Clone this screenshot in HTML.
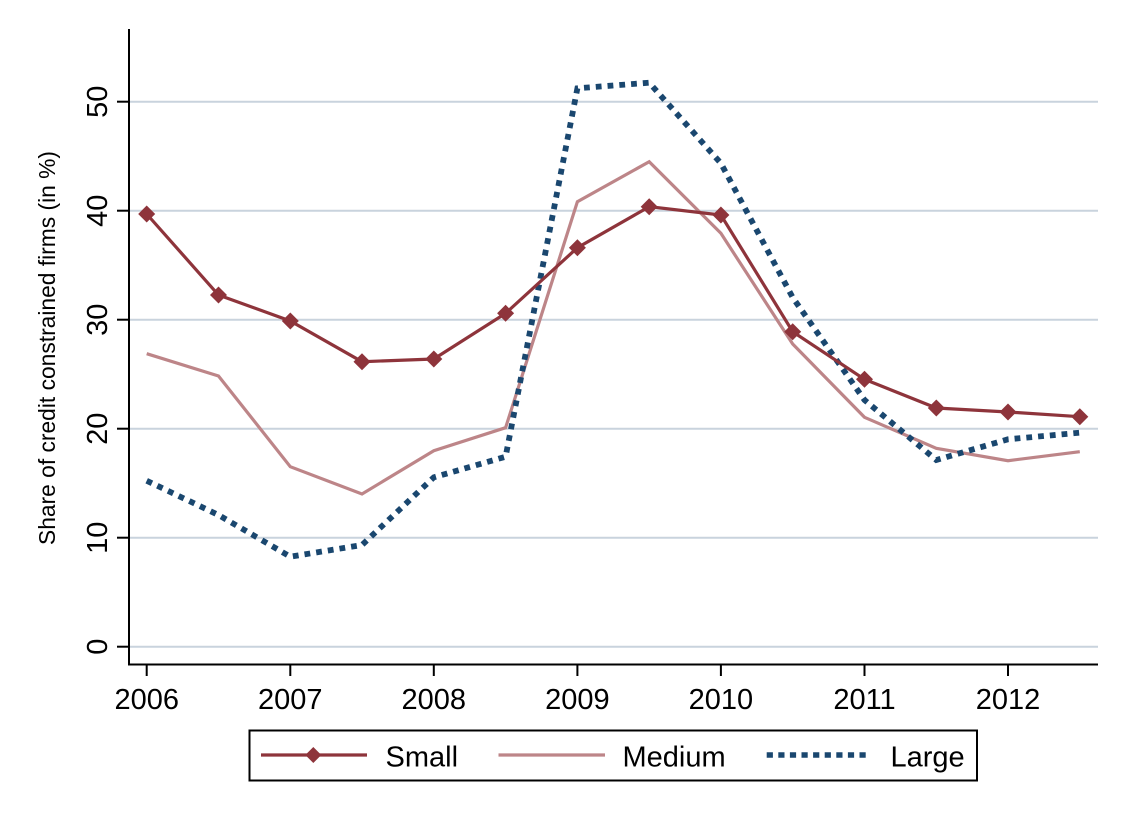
<!DOCTYPE html>
<html>
<head>
<meta charset="utf-8">
<style>
  html, body { margin:0; padding:0; background:#ffffff; }
  svg { display:block; }
  text { font-family: "Liberation Sans", Arial, sans-serif; fill:#000; }
</style>
</head>
<body>
<svg width="1128" height="821" viewBox="0 0 1128 821" xmlns="http://www.w3.org/2000/svg">
  <rect x="0" y="0" width="1128" height="821" fill="#ffffff"/>

  <!-- gridlines -->
  <g stroke="#C9D3DD" stroke-width="2">
    <line x1="130" y1="646.7" x2="1098" y2="646.7"/>
    <line x1="130" y1="537.7" x2="1098" y2="537.7"/>
    <line x1="130" y1="428.7" x2="1098" y2="428.7"/>
    <line x1="130" y1="319.7" x2="1098" y2="319.7"/>
    <line x1="130" y1="210.7" x2="1098" y2="210.7"/>
    <line x1="130" y1="101.7" x2="1098" y2="101.7"/>
  </g>

  <!-- axes -->
  <g stroke="#000" stroke-width="2">
    <line x1="129" y1="29" x2="129" y2="665"/>
    <line x1="128" y1="664.5" x2="1098" y2="664.5"/>
    <line x1="117" y1="646.7" x2="129" y2="646.7"/>
    <line x1="117" y1="537.7" x2="129" y2="537.7"/>
    <line x1="117" y1="428.7" x2="129" y2="428.7"/>
    <line x1="117" y1="319.7" x2="129" y2="319.7"/>
    <line x1="117" y1="210.7" x2="129" y2="210.7"/>
    <line x1="117" y1="101.7" x2="129" y2="101.7"/>
    <line x1="146.7" y1="664" x2="146.7" y2="676"/>
    <line x1="290.3" y1="664" x2="290.3" y2="676"/>
    <line x1="433.8" y1="664" x2="433.8" y2="676"/>
    <line x1="577.4" y1="664" x2="577.4" y2="676"/>
    <line x1="720.9" y1="664" x2="720.9" y2="676"/>
    <line x1="864.5" y1="664" x2="864.5" y2="676"/>
    <line x1="1008.0" y1="664" x2="1008.0" y2="676"/>
  </g>

  <!-- y tick labels -->
  <g font-size="29" text-anchor="middle">
    <text transform="translate(107,646.7) rotate(-90)">0</text>
    <text transform="translate(107,537.7) rotate(-90)">10</text>
    <text transform="translate(107,428.7) rotate(-90)">20</text>
    <text transform="translate(107,319.7) rotate(-90)">30</text>
    <text transform="translate(107,210.7) rotate(-90)">40</text>
    <text transform="translate(107,101.7) rotate(-90)">50</text>
  </g>

  <!-- y title -->
  <text transform="translate(55,348) rotate(-90)" font-size="22.8" text-anchor="middle">Share of credit constrained firms (in %)</text>

  <!-- x tick labels -->
  <g font-size="29" text-anchor="middle">
    <text x="146.7" y="709">2006</text>
    <text x="290.3" y="709">2007</text>
    <text x="433.8" y="709">2008</text>
    <text x="577.4" y="709">2009</text>
    <text x="720.9" y="709">2010</text>
    <text x="864.5" y="709">2011</text>
    <text x="1008.0" y="709">2012</text>
  </g>

  <!-- Medium -->
  <polyline fill="none" stroke="#BD8588" stroke-width="3.2" stroke-linejoin="miter"
    points="146.7,353.7 218.5,376 290.3,466.7 362.0,494 433.8,450.7 505.6,427.7 577.4,201.7 649.2,161.7 720.9,233.3 792.7,344 864.5,417.3 936.3,448.3 1008.0,460.7 1079.8,451.7"/>

  <!-- Large -->
  <polyline fill="none" stroke="#1A476F" stroke-width="5.8" stroke-dasharray="5.8 6" stroke-linejoin="miter"
    points="146.7,480.7 218.5,515 290.3,556.7 362.0,545 433.8,477.3 505.6,456.7 577.4,88.3 649.2,82.7 720.9,163.3 792.7,297.5 864.5,400 936.3,460 1008.0,439.3 1079.8,432.7"/>

  <!-- Small -->
  <polyline fill="none" stroke="#8E343B" stroke-width="3.2" stroke-linejoin="miter"
    points="146.7,214 218.5,295 290.3,321 362.0,361.7 433.8,359 505.6,313.3 577.4,247.7 649.2,206.7 720.9,215 792.7,331.7 864.5,379.3 936.3,408 1008.0,412 1079.8,416.7"/>
  <g fill="#8E343B">
    <polygon points="146.7,205.5 155.2,214 146.7,222.5 138.2,214"/>
    <polygon points="218.5,286.5 227,295 218.5,303.5 210,295"/>
    <polygon points="290.3,312.5 298.8,321 290.3,329.5 281.8,321"/>
    <polygon points="362.0,353.2 370.5,361.7 362.0,370.2 353.5,361.7"/>
    <polygon points="433.8,350.5 442.3,359 433.8,367.5 425.3,359"/>
    <polygon points="505.6,304.8 514.1,313.3 505.6,321.8 497.1,313.3"/>
    <polygon points="577.4,239.2 585.9,247.7 577.4,256.2 568.9,247.7"/>
    <polygon points="649.2,198.2 657.7,206.7 649.2,215.2 640.7,206.7"/>
    <polygon points="720.9,206.5 729.4,215 720.9,223.5 712.4,215"/>
    <polygon points="792.7,323.2 801.2,331.7 792.7,340.2 784.2,331.7"/>
    <polygon points="864.5,370.8 873,379.3 864.5,387.8 856,379.3"/>
    <polygon points="936.3,399.5 944.8,408 936.3,416.5 927.8,408"/>
    <polygon points="1008.0,403.5 1016.5,412 1008.0,420.5 999.5,412"/>
    <polygon points="1079.8,408.2 1088.3,416.7 1079.8,425.2 1071.3,416.7"/>
  </g>

  <!-- Legend -->
  <rect x="249.5" y="730.5" width="727.5" height="50" fill="#fff" stroke="#000" stroke-width="2"/>
  <line x1="261" y1="755" x2="367" y2="755" stroke="#8E343B" stroke-width="3.2"/>
  <polygon points="313.3,747 321.3,755 313.3,763 305.3,755" fill="#8E343B"/>
  <text x="385.5" y="766.7" font-size="29">Small</text>
  <line x1="498.5" y1="755" x2="605" y2="755" stroke="#BD8588" stroke-width="3.2"/>
  <text x="622.5" y="766.7" font-size="29">Medium</text>
  <line x1="766.7" y1="755" x2="871" y2="755" stroke="#1A476F" stroke-width="5.5" stroke-dasharray="6.2 5.4"/>
  <text x="890.5" y="766.7" font-size="29">Large</text>
</svg>
</body>
</html>
